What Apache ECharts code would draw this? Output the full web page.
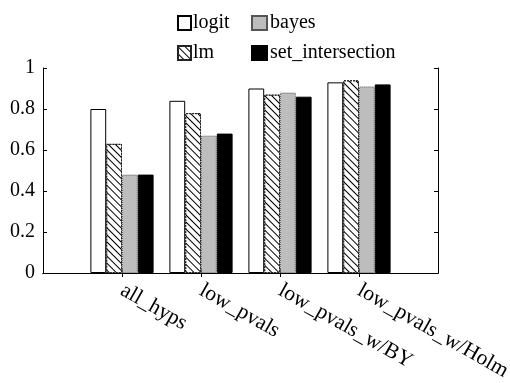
<!DOCTYPE html>
<html><head><meta charset="utf-8">
<script src="https://cdn.jsdelivr.net/npm/echarts@6/dist/echarts.min.js"></script>
<style>html,body{margin:0;padding:0;background:#fff}#c{width:510px;height:383px}</style>
</head><body><div id="c"></div>
<script>
var categories = ['', 'all_hyps', 'low_pvals', 'low_pvals_w/BY', 'low_pvals_w/Holm', ''];
var logit = ['-', 0.80, 0.84, 0.90, 0.93, '-'];
var lm = ['-', 0.63, 0.78, 0.87, 0.94, '-'];
var bayes = ['-', 0.48, 0.67, 0.88, 0.91, '-'];
var setIntersection = ['-', 0.48, 0.68, 0.86, 0.92, '-'];
var yTicks = [0, 0.2, 0.4, 0.6, 0.8, 1];

var FONT = 'Liberation Serif';
var FS = 20;
var chart = echarts.init(document.getElementById('c'), null, {renderer: 'canvas'});
var tickShow = function (i) { return i >= 1 && i <= 4; };
var hatch = {symbol: 'rect', symbolSize: 1, dashArrayX: [1, 0], dashArrayY: [1, 4], rotation: Math.PI / 4, color: '#000'};
chart.setOption({
  animation: false,
  textStyle: {fontFamily: FONT},
  grid: {left: 43, right: 72, top: 68, bottom: 110, containLabel: false, outerBoundsMode: 'none'},
  legend: [
    {orient: 'vertical', left: 172, top: 8, icon: 'rect', itemWidth: 13, itemHeight: 14, itemGap: 10,
     textStyle: {fontFamily: FONT, fontSize: FS, color: '#000', padding: [0, 0, 0, -3]},
     data: ['logit', 'lm']},
    {orient: 'vertical', left: 246, top: 8, icon: 'rect', itemWidth: 15, itemHeight: 14, itemGap: 10,
     textStyle: {fontFamily: FONT, fontSize: FS, color: '#000', padding: [0, 0, 0, -2]},
     data: ['bayes', 'set_intersection']}
  ],
  xAxis: [
    {type: 'category', data: categories, boundaryGap: false, position: 'bottom',
     axisLine: {lineStyle: {color: '#000', width: 1}},
     axisTick: {show: true, inside: true, length: 4, interval: tickShow, lineStyle: {color: '#000'}},
     axisLabel: {interval: 0, rotate: -29.5, margin: 16, fontFamily: FONT, fontSize: 21.5, color: '#000'},
     splitLine: {show: false}},
    {type: 'category', data: categories, boundaryGap: false, position: 'top',
     axisLine: {lineStyle: {color: '#000', width: 1}},
     axisTick: {show: true, inside: true, length: 4, interval: tickShow, lineStyle: {color: '#000'}},
     axisLabel: {show: false}, splitLine: {show: false}}
  ],
  yAxis: [
    {type: 'value', min: 0, max: 1, interval: 0.2, position: 'left',
     axisLine: {show: true, lineStyle: {color: '#000', width: 1}},
     axisTick: {show: true, inside: true, length: 4, lineStyle: {color: '#000'}},
     axisLabel: {margin: 8, fontFamily: FONT, fontSize: FS, color: '#000',
       formatter: function (v) { return String(Math.round(v * 10) / 10); }},
     splitLine: {show: false}},
    {type: 'value', min: 0, max: 1, interval: 0.2, position: 'right',
     axisLine: {show: true, lineStyle: {color: '#000', width: 1}},
     axisTick: {show: true, inside: true, length: 4, lineStyle: {color: '#000'}},
     axisLabel: {show: false}, splitLine: {show: false}}
  ],
  series: [
    {name: 'logit', type: 'bar', data: logit, barGap: '0%', barCategoryGap: '20%',
     itemStyle: {color: '#fff', borderColor: '#000', borderWidth: 1}},
    {name: 'lm', type: 'bar', data: lm, barGap: '0%', barCategoryGap: '20%',
     itemStyle: {color: '#fff', borderColor: '#222', borderWidth: 1, borderType: [2, 1], decal: hatch}},
    {name: 'bayes', type: 'bar', data: bayes, barGap: '0%', barCategoryGap: '20%',
     itemStyle: {color: '#bdbdbd', borderColor: '#555', borderWidth: 1, borderType: [1, 1]}},
    {name: 'set_intersection', type: 'bar', data: setIntersection, barGap: '0%', barCategoryGap: '20%',
     itemStyle: {color: '#000', borderColor: '#000', borderWidth: 1}}
  ]
});
</script></body></html>
